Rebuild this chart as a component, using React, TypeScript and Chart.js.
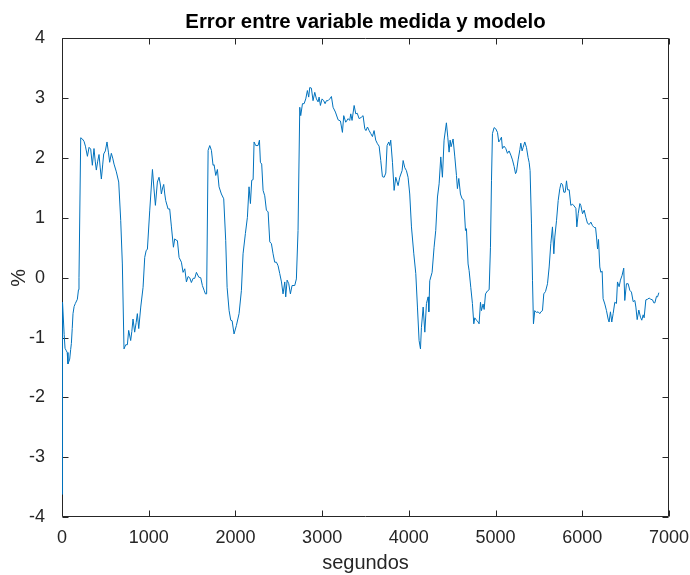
import React, { useEffect, useRef } from "react";
import { Chart, registerables } from "chart.js";

Chart.register(...registerables);

const chartTitle = "Error entre variable medida y modelo";
const xAxisLabel = "segundos";
const yAxisLabel = "%";

const xTickValues = [0, 1000, 2000, 3000, 4000, 5000, 6000, 7000];
const yTickValues = [-4, -3, -2, -1, 0, 1, 2, 3, 4];

const timeSec = [
  0, 6, 25, 35, 50, 60, 69, 80, 89, 100, 108, 118, 127, 140, 154, 177, 190, 196, 216, 235,
  254, 270, 293, 312, 331, 350, 369, 383, 396, 412, 427, 440, 454, 470, 481, 500, 519, 535, 550, 569,
  585, 600, 627, 654, 677, 696, 715, 735, 754, 769, 792, 805, 819, 838, 855, 869, 885, 908, 935, 954,
  970, 985, 1012, 1043, 1060, 1077, 1100, 1119, 1135, 1146, 1160, 1173, 1185, 1196, 1223, 1242, 1262, 1285, 1300, 1315,
  1331, 1350, 1377, 1396, 1416, 1435, 1454, 1473, 1492, 1512, 1531, 1550, 1577, 1600, 1619, 1639, 1654, 1668, 1685, 1704,
  1723, 1742, 1754, 1773, 1792, 1811, 1838, 1865, 1888, 1904, 1927, 1946, 1962, 1984, 2011, 2042, 2069, 2088, 2115, 2138,
  2157, 2173, 2188, 2204, 2215, 2234, 2261, 2277, 2288, 2303, 2319, 2338, 2357, 2377, 2396, 2415, 2434, 2453, 2473, 2492,
  2511, 2531, 2549, 2569, 2580, 2596, 2615, 2634, 2653, 2684, 2703, 2722, 2742, 2753, 2773, 2792, 2811, 2830, 2845, 2857,
  2876, 2895, 2915, 2934, 2953, 2965, 2980, 2999, 3018, 3034, 3049, 3068, 3088, 3107, 3126, 3153, 3184, 3211, 3234, 3249,
  3272, 3300, 3318, 3330, 3345, 3369, 3388, 3405, 3426, 3450, 3472, 3492, 3505, 3523, 3542, 3561, 3580, 3599, 3618, 3638,
  3657, 3676, 3695, 3715, 3734, 3749, 3768, 3780, 3791, 3811, 3830, 3849, 3876, 3895, 3922, 3934, 3953, 3972, 3991, 4010,
  4030, 4057, 4080, 4099, 4118, 4134, 4145, 4165, 4184, 4203, 4222, 4230, 4241, 4268, 4291, 4310, 4330, 4349, 4368, 4387,
  4406, 4433, 4449, 4464, 4476, 4487, 4510, 4530, 4549, 4560, 4576, 4595, 4614, 4633, 4653, 4664, 4683, 4695, 4714, 4733,
  4749, 4760, 4780, 4799, 4810, 4826, 4837, 4856, 4868, 4884, 4907, 4926, 4941, 4953, 4964, 4983, 5002, 5022, 5037, 5050,
  5068, 5079, 5098, 5118, 5137, 5156, 5176, 5195, 5214, 5230, 5241, 5260, 5280, 5291, 5306, 5318, 5337, 5356, 5375, 5387,
  5398, 5414, 5426, 5437, 5452, 5472, 5491, 5510, 5522, 5541, 5556, 5576, 5599, 5618, 5637, 5656, 5672, 5683, 5703, 5722,
  5741, 5756, 5772, 5787, 5803, 5818, 5830, 5849, 5868, 5887, 5906, 5926, 5937, 5953, 5972, 5983, 6003, 6022, 6041, 6060,
  6080, 6099, 6118, 6137, 6153, 6164, 6176, 6187, 6202, 6214, 6229, 6240, 6260, 6279, 6298, 6309, 6325, 6340, 6356, 6375,
  6394, 6406, 6425, 6440, 6459, 6478, 6490, 6509, 6529, 6548, 6567, 6587, 6606, 6618, 6633, 6652, 6671, 6686, 6702, 6713,
  6733, 6752, 6771, 6790, 6810, 6825, 6837, 6856, 6868, 6883,
];

const errorPct = [
  -3.62, -0.41, -0.95, -1.18, -1.22, -1.25, -1.44, -1.4, -1.36, -1.2, -1.1, -0.85, -0.6, -0.48, -0.43, -0.36, -0.2, 0.0, 2.34, 2.32,
  2.28, 2.2, 2.03, 2.18, 2.15, 1.88, 2.16, 1.95, 1.8, 1.95, 2.06, 1.85, 1.65, 1.9, 2.07, 2.12, 2.27, 2.1, 1.93, 2.08,
  2.0, 1.9, 1.77, 1.6, 0.96, 0.23, -1.19, -1.12, -1.12, -0.88, -1.05, -0.9, -0.69, -0.91, -0.75, -0.6, -0.85, -0.49, -0.16, 0.34,
  0.45, 0.48, 1.13, 1.81, 1.5, 1.21, 1.6, 1.68, 1.55, 1.4, 1.5, 1.56, 1.4, 1.29, 1.15, 1.15, 0.85, 0.51, 0.65, 0.63,
  0.62, 0.34, 0.26, 0.09, 0.15, -0.07, 0.02, 0.0, -0.08, -0.01, -0.01, 0.09, 0.01, 0.0, -0.13, -0.21, -0.27, -0.27, 2.13, 2.21,
  2.13, 1.88, 1.89, 1.71, 1.81, 1.52, 1.4, 1.32, 0.62, -0.16, -0.55, -0.71, -0.72, -0.94, -0.8, -0.6, -0.21, 0.4, 0.74, 1.01,
  1.52, 1.24, 1.63, 1.64, 2.27, 2.21, 2.21, 2.3, 1.93, 1.9, 1.46, 1.37, 1.13, 1.1, 0.6, 0.57, 0.4, 0.26, 0.26, 0.2,
  0.07, -0.07, -0.27, -0.07, -0.32, -0.04, -0.1, -0.27, -0.13, -0.13, -0.02, 0.79, 2.85, 2.71, 2.91, 2.91, 2.99, 3.13, 3.02, 3.18,
  3.17, 2.96, 3.1, 2.99, 2.94, 3.02, 2.88, 2.99, 2.96, 2.91, 2.96, 2.96, 2.99, 3.03, 2.85, 2.77, 2.64, 2.62, 2.43, 2.71,
  2.6, 2.66, 2.63, 2.74, 2.63, 2.88, 2.74, 2.75, 2.66, 2.68, 2.71, 2.49, 2.46, 2.52, 2.46, 2.41, 2.36, 2.46, 2.3, 2.24,
  2.2, 1.96, 1.69, 1.68, 1.75, 2.21, 2.27, 2.21, 2.3, 1.93, 1.46, 1.68, 1.54, 1.68, 1.79, 1.96, 1.84, 1.79, 1.68, 1.4,
  0.85, 0.4, 0.07, -0.49, -1.05, -1.19, -0.83, -0.49, -0.91, -0.43, -0.32, -0.57, -0.05, 0.09, 0.51, 0.79, 1.35, 1.57, 2.02, 1.68,
  2.3, 2.59, 2.35, 2.1, 2.3, 2.19, 2.32, 2.02, 1.71, 1.49, 1.66, 1.4, 1.32, 1.3, 0.79, 0.82, 0.23, 0.12, -0.16, -0.43,
  -0.77, -0.67, -0.71, -0.74, -0.77, -0.41, -0.55, -0.44, -0.53, -0.27, -0.22, -0.2, 0.51, 1.63, 2.41, 2.51, 2.49, 2.43, 2.27, 2.3,
  2.35, 2.16, 2.2, 2.16, 2.08, 2.12, 2.05, 1.97, 1.86, 1.74, 1.77, 1.97, 2.14, 2.25, 2.12, 2.18, 2.27, 2.18, 2.01, 1.93,
  1.79, 0.9, -0.05, -0.77, -0.55, -0.58, -0.57, -0.6, -0.57, -0.55, -0.27, -0.23, -0.1, 0.18, 0.57, 0.85, 0.4, 0.68, 0.96, 1.29,
  1.49, 1.58, 1.56, 1.43, 1.43, 1.62, 1.47, 1.47, 1.21, 1.23, 1.2, 1.16, 0.85, 1.07, 1.24, 1.21, 1.07, 1.13, 1.01, 0.91,
  0.89, 0.93, 0.87, 0.84, 0.84, 0.68, 0.48, 0.64, 0.18, 0.09, 0.11, -0.35, -0.44, -0.55, -0.69, -0.74, -0.57, -0.74, -0.6, -0.41,
  -0.43, -0.07, -0.15, -0.04, 0.04, 0.16, -0.38, -0.1, -0.1, -0.21, -0.24, -0.4, -0.38, -0.49, -0.7, -0.54, -0.66, -0.71, -0.62, -0.67,
  -0.37, -0.36, -0.34, -0.36, -0.37, -0.42, -0.42, -0.31, -0.32, -0.25,
];

const FONT = "'Liberation Sans', Arial, Helvetica, sans-serif";
const AXIS_COLOR = "#262626";
const LINE_COLOR = "#0072BD";

const boxPlugin = {
  id: "matlabBox",
  beforeDatasetsDraw(chart: any) {
    const { ctx, chartArea, scales } = chart;
    const { left, right, top, bottom } = chartArea;
    const xs = scales.x;
    const ys = scales.y;
    const tickLen = 6;
    ctx.save();
    ctx.strokeStyle = AXIS_COLOR;
    ctx.lineWidth = 1;
    const L = Math.round(left) + 0.5;
    const R = Math.round(right) - 0.5;
    const T = Math.round(top) + 0.5;
    const B = Math.round(bottom) - 0.5;
    ctx.beginPath();
    ctx.rect(L, T, R - L, B - T);
    for (const v of xTickValues) {
      const px = Math.round(xs.getPixelForValue(v)) + 0.5;
      ctx.moveTo(px, B);
      ctx.lineTo(px, B - tickLen);
      ctx.moveTo(px, T);
      ctx.lineTo(px, T + tickLen);
    }
    for (const v of yTickValues) {
      const py = Math.round(ys.getPixelForValue(v)) + 0.5;
      ctx.moveTo(L, py);
      ctx.lineTo(L + tickLen, py);
      ctx.moveTo(R, py);
      ctx.lineTo(R - tickLen, py);
    }
    ctx.stroke();
    ctx.restore();
  },
};

export default function App() {
  const canvasRef = useRef<HTMLCanvasElement | null>(null);

  useEffect(() => {
    const canvas = canvasRef.current;
    if (!canvas) return;
    const points = timeSec.map((t, i) => ({ x: t, y: errorPct[i] }));
    const chart = new Chart(canvas, {
      type: "line",
      data: {
        datasets: [
          {
            label: "error",
            data: points,
            borderColor: LINE_COLOR,
            backgroundColor: LINE_COLOR,
            borderWidth: 1,
            pointRadius: 0,
            tension: 0,
            fill: false,
            clip: false as any,
          },
        ],
      },
      options: {
        responsive: false,
        animation: false,
        devicePixelRatio: 1,
        layout: { padding: { left: 0, right: 21, top: 0, bottom: 0 } },
        plugins: {
          legend: { display: false },
          tooltip: { enabled: false },
          title: {
            display: true,
            text: chartTitle,
            color: "#000000",
            fullSize: false,
            font: { family: FONT, size: 20.4, weight: "bold" },
            padding: { top: 10, bottom: 4 },
          },
        },
        scales: {
          x: {
            type: "linear",
            min: 0,
            max: 7000,
            afterFit(scale: any) {
              scale.height = 58;
              scale.paddingLeft = 0;
              scale.paddingRight = 0;
            },
            afterBuildTicks(scale: any) {
              scale.ticks = xTickValues.map((v) => ({ value: v }));
            },
            grid: { display: false },
            border: { display: false },
            ticks: {
              color: AXIS_COLOR,
              font: { family: FONT, size: 18 },
              padding: 2,
              autoSkip: false,
              maxRotation: 0,
              minRotation: 0,
              callback: (v: any) => String(v),
            },
            title: {
              display: true,
              text: xAxisLabel,
              color: AXIS_COLOR,
              font: { family: FONT, size: 20 },
              padding: { top: 0, bottom: 0 },
            },
          },
          y: {
            type: "linear",
            min: -4,
            max: 4,
            afterFit(scale: any) {
              scale.width = 62;
              scale.paddingTop = 0;
              scale.paddingBottom = 0;
            },
            afterBuildTicks(scale: any) {
              scale.ticks = yTickValues.map((v) => ({ value: v }));
            },
            grid: { display: false },
            border: { display: false },
            ticks: {
              color: AXIS_COLOR,
              font: { family: FONT, size: 18 },
              padding: 9,
              autoSkip: false,
              callback: (v: any) => String(v),
            },
            title: {
              display: true,
              text: yAxisLabel,
              color: AXIS_COLOR,
              font: { family: FONT, size: 20 },
              padding: { top: 7, bottom: 0 },
            },
          },
        },
      },
      plugins: [boxPlugin],
    });
    return () => chart.destroy();
  }, []);

  return (
    <div style={{ position: "absolute", left: 0, top: 0, width: 690, height: 575, background: "#ffffff" }}>
      <canvas ref={canvasRef} width={690} height={575} style={{ display: "block" }} />
    </div>
  );
}
